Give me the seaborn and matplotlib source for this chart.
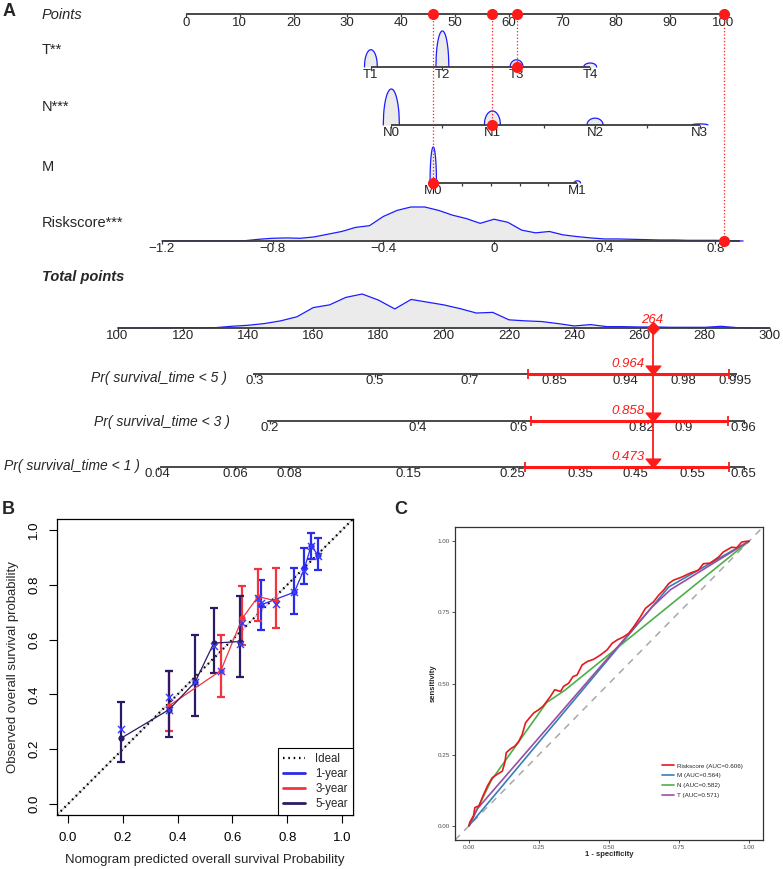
import numpy as np
import pandas as pd
import seaborn as sns
import matplotlib
matplotlib.use("Agg")
import matplotlib.pyplot as plt
from matplotlib.path import Path
from matplotlib.lines import Line2D

W, H = 783, 869

# ---------------- panel A : nomogram ----------------
point_ticks = list(range(0, 101, 10))

t_levels = ["T1", "T2", "T3", "T4"]
t_points = [34.4, 47.7, 61.5, 75.2]
t_freq = [48, 100, 20, 11]          # bump height, % of tallest bump

n_levels = ["N0", "N1", "N2", "N3"]
n_points = [38.2, 57.0, 76.1, 95.6]
n_freq = [100, 39, 19, 3]

m_levels = ["M0", "M1"]
m_points = [46.0, 72.8]
m_freq = [100, 6]

risk_ticks = [-1.2, -0.8, -0.4, 0, 0.4, 0.8]
risk_labels = ["\u22121.2", "\u22120.8", "\u22120.4", "0", "0.4", "0.8"]
risk_range = [-1.2, 0.89]
risk_zero_pts = 57.3        # points at Riskscore = 0
risk_pts_per_unit = 51.5    # points per unit of Riskscore
# Riskscore density read at -1.2, -1.15, ..., 0.9 (% of peak)
risk_grid = np.linspace(-1.2, 0.9, 43)
risk_dens = [0, 0.6, 0.6, 0.6, 0.6, 0.6, 0.9, 5, 8, 9, 8, 12, 20, 28, 40, 45,
             72, 90, 100, 100, 90, 76, 66, 52, 64, 55, 32, 24, 28, 18, 13, 9,
             6, 6, 5, 4, 3, 3, 2, 2, 2, 1, 0]

tot_ticks = list(range(100, 301, 20))
# total points density read at 100, 105, ..., 300 (% of peak)
tot_grid = np.linspace(100, 300, 41)
tot_dens = [0, 0, 0, 0.5, 1, 0.5, 1, 5, 8, 13, 21, 33, 60, 68, 90, 100, 82, 56,
            84, 76, 68, 57, 44, 46, 24, 21, 19, 13, 6, 10, 4, 4, 3, 3, 2, 2, 2,
            5, 1, 0, 0]

# selected patient
sel_T, sel_N, sel_M = 61.5, 57.0, 46.0
sel_risk = 0.83
sel_total = 264

pr5_labels = ["0.3", "0.5", "0.7", "0.85", "0.94", "0.98", "0.995"]
pr5_pos = [142.1, 178.9, 208.0, 233.8, 255.6, 273.6, 289.3]
pr5_span = [141.4, 289.9]
pr5_ci = [225.7, 287.3]
pr5_est = "0.964"

pr3_labels = ["0.2", "0.4", "0.6", "0.82", "0.9", "0.96"]
pr3_pos = [146.7, 192.0, 222.9, 260.5, 273.6, 291.9]
pr3_span = [145.7, 292.3]
pr3_ci = [226.7, 287.0]
pr3_est = "0.858"

pr1_labels = ["0.04", "0.06", "0.08", "0.15", "0.25", "0.35", "0.45", "0.55", "0.65"]
pr1_pos = [112.3, 136.0, 152.6, 189.3, 221.1, 241.8, 258.6, 276.2, 291.9]
pr1_span = [113.0, 292.3]
pr1_ci = [224.9, 287.4]
pr1_est = "0.473"

# ---------------- panel B : calibration ----------------
pred_1 = [0.705, 0.826, 0.863, 0.887, 0.912]
obs_1 = [0.727, 0.773, 0.860, 0.942, 0.909]
lo_1 = [0.635, 0.694, 0.802, 0.894, 0.854]
hi_1 = [0.818, 0.863, 0.933, 0.990, 0.970]
cor_1 = [0.733, 0.773, 0.850, 0.940, 0.905]

pred_3 = [0.368, 0.558, 0.636, 0.694, 0.759]
obs_3 = [0.358, 0.487, 0.678, 0.757, 0.741]
lo_3 = [0.267, 0.389, 0.581, 0.668, 0.642]
hi_3 = [0.487, 0.615, 0.797, 0.857, 0.860]
cor_3 = [0.389, 0.487, 0.662, 0.751, 0.729]

pred_5 = [0.195, 0.368, 0.464, 0.532, 0.626]
obs_5 = [0.241, 0.344, 0.445, 0.587, 0.593]
lo_5 = [0.153, 0.243, 0.321, 0.478, 0.462]
hi_5 = [0.374, 0.487, 0.615, 0.717, 0.760]
cor_5 = [0.275, 0.344, 0.447, 0.578, 0.583]

# ---------------- panel C : ROC ----------------
roc_risk_fpr = [0, 0.0025, 0.016, 0.021, 0.036, 0.050, 0.066, 0.083, 0.101, 0.119,
                0.128, 0.133, 0.149, 0.164, 0.178, 0.190, 0.202, 0.216, 0.232, 0.249,
                0.264, 0.273, 0.291, 0.306, 0.327, 0.338, 0.356, 0.371, 0.386, 0.404,
                0.422, 0.445, 0.469, 0.493, 0.511, 0.529, 0.552, 0.570, 0.588, 0.612,
                0.630, 0.659, 0.677, 0.695, 0.713, 0.730, 0.760, 0.790, 0.819, 0.837,
                0.861, 0.891, 0.908, 0.938, 0.956, 0.974, 0.992, 1.0]
roc_risk_tpr = [0, 0.012, 0.035, 0.064, 0.070, 0.105, 0.140, 0.169, 0.181, 0.192,
                0.222, 0.257, 0.271, 0.280, 0.297, 0.321, 0.362, 0.379, 0.397, 0.408,
                0.420, 0.431, 0.455, 0.478, 0.472, 0.490, 0.501, 0.524, 0.530, 0.565,
                0.577, 0.585, 0.600, 0.618, 0.641, 0.653, 0.664, 0.676, 0.699, 0.734,
                0.764, 0.787, 0.810, 0.828, 0.851, 0.863, 0.874, 0.888, 0.898, 0.921,
                0.923, 0.944, 0.962, 0.979, 0.977, 0.997, 1.0, 1.0]
roc_m_fpr = [0, 0.713, 1]
roc_m_tpr = [0, 0.839, 1]
roc_n_fpr = [0, 0.08, 0.277, 0.342, 1]
roc_n_tpr = [0, 0.16, 0.433, 0.476, 1]
roc_t_fpr = [0, 0.03, 0.655, 0.72, 1]
roc_t_tpr = [0, 0.06, 0.77, 0.83, 1]
roc_names = ["Riskscore (AUC=0.606)", "M (AUC=0.564)", "N (AUC=0.582)", "T (AUC=0.571)"]
roc_colors = ["#E41A1C", "#377EB8", "#4DAF4A", "#984EA3"]

# ------------------------------------------------------------
sns.set_style("white")
plt.rcParams["font.family"] = ["Liberation Sans", "DejaVu Sans"]

fig = plt.figure(figsize=(W / 100, H / 100), dpi=100)


def px_axes(x0, y0, x1, y1):
    return fig.add_axes([x0 / W, 1 - y1 / H, (x1 - x0) / W, (y1 - y0) / H])


def ftext(x, y, s, **kw):
    fig.text(x / W, 1 - y / H, s, **kw)


AXC = "#3a3a3a"
FILL = "#ebebeb"
BLUE_D = "#1c1cff"
RED = "#ff1a1a"
BUMP_H = 36
DENS_H = 34


def axis_line(ax, x0, x1, y):
    ax.plot([x0, x1], [y, y], color=AXC, lw=1.3, solid_capstyle="butt", clip_on=False, zorder=3)


def tick_marks(ax, xs, y, length=3):
    ax.vlines(xs, y, y + length, color=AXC, lw=0.9, clip_on=False, zorder=3)


def tick_text(ax, xs, labels, y, dy=8):
    for x, lab in zip(xs, labels):
        ax.text(x, y + dy, lab, ha="center", va="center", fontsize=9.5, clip_on=False)


def bump(ax, center, freq, hw, y):
    u = np.linspace(-1, 1, 41)
    xs = center + u * hw
    ys = y - freq / 100 * BUMP_H * np.sqrt(1 - u ** 2)
    ax.fill_between(xs, y, ys, color=FILL, lw=0, clip_on=False, zorder=1)
    ax.plot(xs, ys, color=BLUE_D, lw=0.9, clip_on=False, zorder=2)


def cat_row(ax, levels, pts, freq, hw, y, nsub):
    for p, f in zip(pts, freq):
        bump(ax, p, f, hw, y)
    axis_line(ax, pts[0], pts[-1], y)
    minors = []
    for a, b in zip(pts[:-1], pts[1:]):
        minors += list(np.linspace(a, b, nsub + 1)[1:-1])
    tick_marks(ax, list(pts) + minors, y)
    tick_text(ax, pts, levels, y)


ax_pts = px_axes(186, 0, 723.5, 262)
ax_pts.set_xlim(0, 100)
ax_pts.set_ylim(262, 0)
ax_pts.axis("off")

ax_tot = px_axes(117.5, 262, 770, 490)
ax_tot.set_xlim(100, 300)
ax_tot.set_ylim(490, 262)
ax_tot.axis("off")

y_pts, y_T, y_N, y_M, y_R = 14, 67, 125, 183, 241
y_tot, y_p5, y_p3, y_p1 = 328, 374, 421, 467

# Points
axis_line(ax_pts, 0, 100, y_pts)
tick_marks(ax_pts, point_ticks, y_pts)
tick_text(ax_pts, point_ticks, [str(v) for v in point_ticks], y_pts, dy=9)

cat_row(ax_pts, t_levels, t_points, t_freq, 1.2, y_T, 1)
cat_row(ax_pts, n_levels, n_points, n_freq, 1.5, y_N, 2)
cat_row(ax_pts, m_levels, m_points, m_freq, 0.6, y_M, 5)

# Riskscore
risk_x = risk_zero_pts + risk_pts_per_unit * risk_grid
risk_y = y_R - np.array(risk_dens) / 100 * DENS_H
ax_pts.fill_between(risk_x, y_R, risk_y, color=FILL, lw=0, clip_on=False, zorder=1)
ax_pts.plot(risk_x, risk_y, color=BLUE_D, lw=0.9, clip_on=False, zorder=2)
rr = [risk_zero_pts + risk_pts_per_unit * v for v in risk_range]
axis_line(ax_pts, rr[0], rr[1], y_R)
rt = [risk_zero_pts + risk_pts_per_unit * v for v in risk_ticks]
tick_marks(ax_pts, rt, y_R)
tick_text(ax_pts, rt, risk_labels, y_R)

# selected patient on the points scale
sel_x = [sel_T, sel_N, sel_M, risk_zero_pts + risk_pts_per_unit * sel_risk]
sel_y = [y_T, y_N, y_M, y_R]
ax_pts.vlines(sel_x, y_pts, sel_y, colors=RED, linestyles=":", lw=0.9, clip_on=False, zorder=4)
ax_pts.plot(sel_x, [y_pts] * 4, "o", color=RED, ms=7, clip_on=False, zorder=5)
ax_pts.plot(sel_x, sel_y, "o", color=RED, ms=7, clip_on=False, zorder=5)

# Total points
tot_y = y_tot - np.array(tot_dens) / 100 * DENS_H
ax_tot.fill_between(tot_grid, y_tot, tot_y, color=FILL, lw=0, clip_on=False, zorder=1)
ax_tot.plot(tot_grid, tot_y, color=BLUE_D, lw=0.9, clip_on=False, zorder=2)
axis_line(ax_tot, 100, 300, y_tot)
tick_marks(ax_tot, tot_ticks, y_tot)
tick_text(ax_tot, tot_ticks, [str(v) for v in tot_ticks], y_tot)

ax_tot.vlines(sel_total, y_tot, y_p1, color=RED, lw=1.3, clip_on=False, zorder=4)
ax_tot.plot([sel_total], [y_tot], "D", color=RED, ms=6, clip_on=False, zorder=5)
ax_tot.text(sel_total, y_tot - 8, str(sel_total), color=RED, style="italic",
            ha="center", va="center", fontsize=9.5, clip_on=False, zorder=6)

arrow = Path([(-1, 0.6), (1, 0.6), (0, -0.6), (-1, 0.6)],
             [Path.MOVETO, Path.LINETO, Path.LINETO, Path.CLOSEPOLY])

for labels, pos, span, ci, est, y in [
        (pr5_labels, pr5_pos, pr5_span, pr5_ci, pr5_est, y_p5),
        (pr3_labels, pr3_pos, pr3_span, pr3_ci, pr3_est, y_p3),
        (pr1_labels, pr1_pos, pr1_span, pr1_ci, pr1_est, y_p1)]:
    axis_line(ax_tot, span[0], span[1], y)
    tick_marks(ax_tot, pos, y)
    tick_text(ax_tot, pos, labels, y, dy=7)
    ax_tot.plot(ci, [y, y], color=RED, lw=2.2, solid_capstyle="butt", clip_on=False, zorder=4)
    ax_tot.vlines(ci, y - 5, y + 5, color=RED, lw=1.3, clip_on=False, zorder=4)
    ax_tot.plot([sel_total], [y - 4.4], marker=arrow, color=RED, ms=10.5, lw=0,
                clip_on=False, zorder=5)
    ax_tot.text(sel_total - 2.6, y - 10, est, color=RED, style="italic",
                ha="right", va="center", fontsize=9.5, clip_on=False, zorder=6)

# row labels
ftext(3, 11, "A", fontsize=13, fontweight="bold", va="center")
ftext(42, 15, "Points", fontsize=10.5, style="italic", va="center")
ftext(42, 50, "T**", fontsize=10.5, va="center")
ftext(42, 107, "N***", fontsize=10.5, va="center")
ftext(42, 167, "M", fontsize=10.5, va="center")
ftext(42, 223, "Riskscore***", fontsize=10.5, va="center")
ftext(42, 277, "Total points", fontsize=10.5, style="italic", fontweight="bold", va="center")
ftext(227, 378, "Pr( survival_time < 5 )", fontsize=10, style="italic", ha="right", va="center")
ftext(230, 422, "Pr( survival_time < 3 )", fontsize=10, style="italic", ha="right", va="center")
ftext(140, 466, "Pr( survival_time < 1 )", fontsize=10, style="italic", ha="right", va="center")

# ---------------- panel B ----------------
axB = px_axes(57, 519, 353, 815)
axB.set_xlim(-0.04, 1.04)
axB.set_ylim(-0.04, 1.04)
for s in axB.spines.values():
    s.set_color("black")
    s.set_linewidth(0.9)

axB.axline((0, 0), slope=1, color="#cfcfcf", lw=1.0, zorder=1)
axB.axline((0, 0), slope=1, color="black", lw=1.6, ls=(0, (0.7, 1.7)), zorder=2)

c1, c3, c5 = "#2b2bea", "#f2343f", "#2c1a66"
for pred, obs, lo, hi, col in [(pred_1, obs_1, lo_1, hi_1, c1),
                               (pred_3, obs_3, lo_3, hi_3, c3),
                               (pred_5, obs_5, lo_5, hi_5, c5)]:
    obs_a = np.array(obs)
    axB.errorbar(pred, obs, yerr=[obs_a - np.array(lo), np.array(hi) - obs_a],
                 fmt="none", ecolor=col, elinewidth=1.6, capsize=3, capthick=1.6, zorder=3)
    sns.lineplot(x=pred, y=obs, ax=axB, color=col, lw=0.9, marker="o", ms=4.5,
                 mec=col, mew=0, sort=False, estimator=None, legend=False, zorder=4)

for pred, cor in [(pred_1, cor_1), (pred_3, cor_3), (pred_5, cor_5)]:
    sns.scatterplot(x=pred, y=cor, ax=axB, marker="x", color="#3b3bff", s=26,
                    linewidth=1.0, legend=False, zorder=5)

axB.set_xticks(np.linspace(0, 1, 6))
axB.set_yticks(np.linspace(0, 1, 6))
axB.set_xticklabels(["0.0", "0.2", "0.4", "0.6", "0.8", "1.0"])
axB.set_yticklabels(["0.0", "0.2", "0.4", "0.6", "0.8", "1.0"], rotation=90, va="center")
axB.tick_params(direction="out", length=5.5, width=0.8, pad=6.5, labelsize=9.5,
                bottom=True, left=True, colors="black")
axB.set_xlabel("Nomogram predicted overall survival Probability", fontsize=9.5, va="center")
axB.set_ylabel("Observed overall survival probability", fontsize=9.5, va="center")
axB.xaxis.set_label_coords(0.5, -0.152)
axB.yaxis.set_label_coords(-0.149, 0.5)

hB = [Line2D([], [], color="black", lw=1.6, ls=(0, (0.7, 1.7))),
      Line2D([], [], color=c1, lw=2),
      Line2D([], [], color=c3, lw=2),
      Line2D([], [], color=c5, lw=2)]
legB = axB.legend(hB, ["Ideal", "1-year", "3-year", "5-year"], loc="lower right",
                  borderaxespad=0, fontsize=8.3, handlelength=1.9, labelspacing=0.25,
                  handletextpad=0.9, fancybox=False, edgecolor="black", framealpha=1,
                  borderpad=0.45)
legB.get_frame().set_linewidth(0.8)
ftext(2, 510, "B", fontsize=13, fontweight="bold", va="center")

# ---------------- panel C ----------------
axC = px_axes(455, 527, 763, 840)
axC.set_xlim(-0.05, 1.05)
axC.set_ylim(-0.05, 1.05)
for s in axC.spines.values():
    s.set_color("#333333")
    s.set_linewidth(0.9)

axC.axline((0, 0), slope=1, color="#a8a8a8", lw=1.1, ls=(0, (4.5, 4)), zorder=1)

roc_df = pd.concat([
    pd.DataFrame({"fpr": roc_risk_fpr, "tpr": roc_risk_tpr, "model": roc_names[0]}),
    pd.DataFrame({"fpr": roc_m_fpr, "tpr": roc_m_tpr, "model": roc_names[1]}),
    pd.DataFrame({"fpr": roc_n_fpr, "tpr": roc_n_tpr, "model": roc_names[2]}),
    pd.DataFrame({"fpr": roc_t_fpr, "tpr": roc_t_tpr, "model": roc_names[3]}),
])
pal = dict(zip(roc_names, roc_colors))
sns.lineplot(data=roc_df, x="fpr", y="tpr", hue="model", palette=pal,
             hue_order=[roc_names[1], roc_names[2], roc_names[3], roc_names[0]],
             sort=False, estimator=None, lw=1.2, legend=False, ax=axC, zorder=3)

axC.set_xticks([0, 0.25, 0.5, 0.75, 1])
axC.set_yticks([0, 0.25, 0.5, 0.75, 1])
axC.set_xticklabels(["0.00", "0.25", "0.50", "0.75", "1.00"])
axC.set_yticklabels(["0.00", "0.25", "0.50", "0.75", "1.00"])
axC.tick_params(direction="out", length=2, width=0.6, pad=1.5, labelsize=4.5,
                labelcolor="#4d4d4d", color="#333333", bottom=True, left=True)
axC.set_xlabel("1 - specificity", fontsize=5.5, fontweight="bold", va="center")
axC.set_ylabel("sensitivity", fontsize=5.5, fontweight="bold", va="center")
axC.xaxis.set_label_coords(0.5, -0.045)
axC.yaxis.set_label_coords(-0.071, 0.5)

hC = [Line2D([], [], color=c, lw=1.2) for c in roc_colors]
axC.legend(hC, roc_names, loc="center left", bbox_to_anchor=(0.655, 0.19),
           frameon=False, fontsize=4.5, handlelength=1.8, labelspacing=0.7,
           handletextpad=0.6)
ftext(394, 510, "C", fontsize=13, fontweight="bold", va="center")

fig.savefig("out.png", dpi=100)
